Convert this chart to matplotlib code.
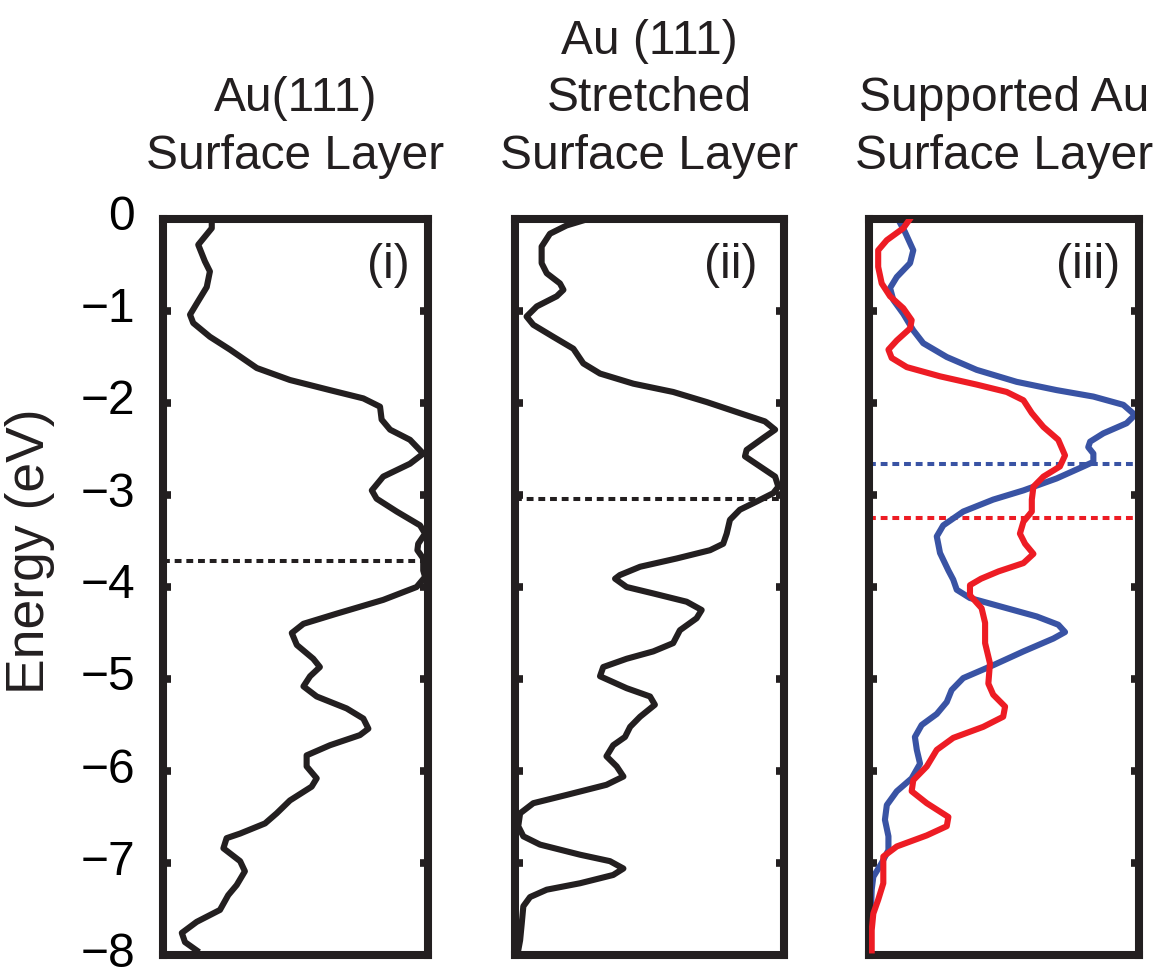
import matplotlib
matplotlib.use("Agg")
import matplotlib.pyplot as plt
from matplotlib.transforms import ScaledTranslation

plt.rcParams['font.family'] = ['Liberation Sans', 'DejaVu Sans']

BLACK = "#231f20"
BLUE = "#3953a4"
RED = "#ed1c24"

# panel (i): Au(111) surface layer
E1 = [-0.01, -0.10, -0.28, -0.46, -0.57, -0.74, -0.92, -1.04, -1.13, -1.28, -1.42,
      -1.62, -1.75, -1.86, -1.95, -2.04, -2.18, -2.29, -2.40, -2.55, -2.66, -2.80,
      -2.95, -3.04, -3.18, -3.33, -3.42, -3.53, -3.60, -3.69, -3.82, -3.89, -4.00,
      -4.14, -4.29, -4.40, -4.50, -4.63, -4.78, -4.87, -4.97, -5.08, -5.19, -5.32,
      -5.43, -5.54, -5.61, -5.72, -5.83, -5.95, -6.08, -6.17, -6.32, -6.46, -6.57,
      -6.68, -6.73, -6.84, -6.98, -7.09, -7.24, -7.35, -7.51, -7.64, -7.76, -7.86,
      -7.95]
D1 = [0.184, 0.184, 0.133, 0.158, 0.177, 0.165, 0.127, 0.102, 0.114, 0.177, 0.253,
      0.354, 0.479, 0.630, 0.756, 0.819, 0.825, 0.857, 0.932, 0.982, 0.932, 0.831,
      0.788, 0.806, 0.882, 0.970, 0.989, 0.963, 0.960, 0.982, 0.982, 0.989, 0.957,
      0.831, 0.655, 0.530, 0.486, 0.505, 0.567, 0.592, 0.555, 0.530, 0.580, 0.693,
      0.756, 0.775, 0.743, 0.630, 0.542, 0.542, 0.580, 0.561, 0.479, 0.429, 0.385,
      0.291, 0.240, 0.228, 0.291, 0.309, 0.278, 0.246, 0.215, 0.127, 0.071, 0.083,
      0.127]

# panel (ii): stretched Au(111) surface layer
E2 = [-0.01, -0.07, -0.16, -0.30, -0.48, -0.59, -0.70, -0.77, -0.84, -0.95, -1.06,
      -1.15, -1.28, -1.41, -1.57, -1.68, -1.79, -1.88, -1.99, -2.11, -2.20, -2.29,
      -2.38, -2.51, -2.58, -2.69, -2.80, -2.91, -2.98, -3.07, -3.16, -3.27, -3.42,
      -3.53, -3.60, -3.69, -3.78, -3.87, -3.91, -4.00, -4.07, -4.16, -4.25, -4.34,
      -4.47, -4.61, -4.70, -4.78, -4.87, -4.97, -5.10, -5.19, -5.28, -5.41, -5.52,
      -5.63, -5.72, -5.84, -5.95, -6.06, -6.15, -6.26, -6.35, -6.46, -6.60, -6.71,
      -6.80, -6.91, -6.98, -7.06, -7.13, -7.22, -7.29, -7.37, -7.47, -7.66, -7.84,
      -7.95]
D2 = [0.260, 0.192, 0.130, 0.099, 0.099, 0.118, 0.167, 0.180, 0.155, 0.081, 0.043,
      0.068, 0.142, 0.217, 0.254, 0.316, 0.440, 0.588, 0.713, 0.836, 0.929, 0.967,
      0.923, 0.861, 0.855, 0.911, 0.967, 0.979, 0.960, 0.899, 0.836, 0.799, 0.787,
      0.774, 0.725, 0.601, 0.465, 0.390, 0.372, 0.415, 0.514, 0.638, 0.694, 0.675,
      0.613, 0.588, 0.514, 0.415, 0.328, 0.316, 0.415, 0.502, 0.520, 0.465, 0.428,
      0.409, 0.365, 0.340, 0.378, 0.403, 0.340, 0.192, 0.068, 0.019, 0.012, 0.031,
      0.093, 0.242, 0.353, 0.403, 0.365, 0.242, 0.118, 0.056, 0.031, 0.025, 0.019,
      0.012]

# panel (iii): supported Au surface layer, blue and red
E3B = [-0.01, -0.14, -0.34, -0.48, -0.63, -0.75, -0.88, -1.03, -1.21, -1.35, -1.50,
       -1.64, -1.77, -1.86, -1.93, -2.02, -2.13, -2.22, -2.33, -2.42, -2.48, -2.55,
       -2.64, -2.69, -2.82, -2.95, -3.05, -3.18, -3.33, -3.45, -3.63, -3.82, -3.92,
       -4.03, -4.12, -4.21, -4.32, -4.41, -4.49, -4.56, -4.70, -4.85, -4.99, -5.12,
       -5.25, -5.38, -5.50, -5.63, -5.77, -5.92, -6.08, -6.22, -6.37, -6.53, -6.71,
       -6.86, -7.00, -7.15, -7.29, -7.62, -7.95]
D3B = [0.109, 0.133, 0.164, 0.152, 0.103, 0.078, 0.090, 0.127, 0.164, 0.201, 0.288,
       0.399, 0.547, 0.695, 0.831, 0.942, 0.985, 0.954, 0.868, 0.819, 0.812, 0.831,
       0.831, 0.794, 0.695, 0.572, 0.460, 0.349, 0.275, 0.251, 0.263, 0.294, 0.312,
       0.325, 0.374, 0.485, 0.621, 0.701, 0.726, 0.683, 0.572, 0.460, 0.349, 0.306,
       0.288, 0.251, 0.195, 0.170, 0.177, 0.189, 0.158, 0.103, 0.066, 0.059, 0.072,
       0.072, 0.047, 0.016, 0.010, 0.006, 0.006]
E3R = [-0.01, -0.10, -0.23, -0.34, -0.52, -0.70, -0.84, -0.97, -1.10, -1.19, -1.32,
       -1.42, -1.51, -1.61, -1.71, -1.80, -1.88, -1.97, -2.11, -2.26, -2.40, -2.57,
       -2.69, -2.80, -2.91, -3.05, -3.18, -3.29, -3.42, -3.53, -3.64, -3.74, -3.83,
       -3.91, -3.98, -4.09, -4.23, -4.39, -4.61, -4.83, -5.05, -5.17, -5.30, -5.41,
       -5.52, -5.64, -5.77, -5.95, -6.10, -6.22, -6.35, -6.50, -6.60, -6.70, -6.82,
       -6.93, -7.08, -7.22, -7.40, -7.55, -7.73, -7.95]
D3R = [0.149, 0.127, 0.066, 0.034, 0.034, 0.047, 0.078, 0.127, 0.158, 0.152, 0.103,
       0.072, 0.084, 0.140, 0.263, 0.399, 0.510, 0.572, 0.603, 0.646, 0.701, 0.726,
       0.707, 0.646, 0.609, 0.603, 0.603, 0.572, 0.559, 0.578, 0.609, 0.572, 0.480,
       0.415, 0.374, 0.374, 0.417, 0.430, 0.430, 0.448, 0.442, 0.460, 0.504, 0.497,
       0.423, 0.312, 0.251, 0.214, 0.164, 0.158, 0.214, 0.294, 0.288, 0.214, 0.103,
       0.053, 0.053, 0.053, 0.034, 0.016, 0.010, 0.010]

# d-band centres (dotted lines)
DBAND1 = -3.72
DBAND2 = -3.04
DBAND3_BLUE = -2.66
DBAND3_RED = -3.25

TITLES = ["Au(111)\nSurface Layer",
          "Au (111)\nStretched\nSurface Layer",
          "Supported Au\nSurface Layer"]
TAGS = ["(i)", "(ii)", "(iii)"]
YTICKS = [0, -1, -2, -3, -4, -5, -6, -7, -8]
YTICKLABELS = ["0", "\u22121", "\u22122", "\u22123", "\u22124", "\u22125",
               "\u22126", "\u22127", "\u22128"]

FS = 34.5
W, H = 1165, 971
boxes = [(163, 265), (515, 269), (869, 270)]   # left px, width px
tag_x = [0.932, 0.903, 0.93]

fig = plt.figure(figsize=(W / 100, H / 100), dpi=100)
axes = []
for (l, w) in boxes:
    ax = fig.add_axes([l / W, 1 - 955 / H, w / W, (955 - 219) / H])
    axes.append(ax)

dot = (0, (1.7, 1.2))
lw_curve = 4.4
lw_dot = 2.9

ax = axes[0]
ax.axhline(DBAND1, color=BLACK, lw=lw_dot, ls=dot, zorder=1)
ax.plot(D1, E1, color=BLACK, lw=lw_curve, solid_joinstyle="round", zorder=2)

ax = axes[1]
ax.axhline(DBAND2, color=BLACK, lw=lw_dot, ls=dot, zorder=1)
ax.plot(D2, E2, color=BLACK, lw=lw_curve, solid_joinstyle="round", zorder=2)

ax = axes[2]
ax.axhline(DBAND3_BLUE, color=BLUE, lw=lw_dot, ls=dot, zorder=1)
ax.axhline(DBAND3_RED, color=RED, lw=lw_dot, ls=dot, zorder=1)
ax.plot(D3B, E3B, color=BLUE, lw=lw_curve, solid_joinstyle="round", zorder=2)
ax.plot(D3R, E3R, color=RED, lw=lw_curve, solid_joinstyle="round", zorder=3)

lift = ScaledTranslation(0, 0.06, fig.dpi_scale_trans)   # labels sit a bit high
for i, ax in enumerate(axes):
    ax.set_xlim(0, 1)
    ax.set_ylim(-8, 0)
    ax.set_xticks([])
    ax.set_yticks(YTICKS)
    ax.tick_params(axis="y", direction="in", length=6, width=5.5, color=BLACK,
                   left=True, right=True, labelleft=(i == 0), pad=20,
                   labelsize=FS)
    if i == 0:
        ax.set_yticklabels(YTICKLABELS)
        for lab in ax.get_yticklabels():
            lab.set_transform(lab.get_transform() + lift)
    for sp in ax.spines.values():
        sp.set_linewidth(5.8)
        sp.set_color(BLACK)
        sp.set_capstyle("projecting")
    ax.text(tag_x[i], 0.967, TAGS[i], transform=ax.transAxes, ha="right",
            va="top", fontsize=FS, color=BLACK)
    ax.text(0.5, 1 + 40 / 736, TITLES[i], transform=ax.transAxes, ha="center",
            va="bottom", fontsize=FS, color=BLACK, linespacing=1.36)

fig.text(30 / W, 1 - 551 / H, "Energy (eV)", rotation=90, ha="center",
         va="center", fontsize=38.5, color=BLACK)

fig.savefig("out.png", dpi=100)
